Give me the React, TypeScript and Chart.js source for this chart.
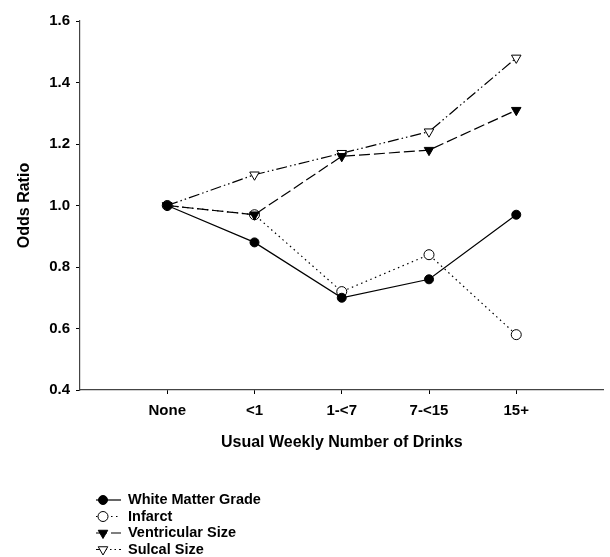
import React, { useEffect, useRef } from "react";
import { Chart, registerables } from "chart.js";
import { drawPoint } from "chart.js/helpers";

Chart.register(...registerables);

const categories = ["None", "<1", "1-<7", "7-<15", "15+"];
const whiteMatter = [1.0, 0.88, 0.70, 0.76, 0.97];
const infarct = [1.0, 0.97, 0.72, 0.84, 0.58];
const ventricular = [1.0, 0.97, 1.16, 1.18, 1.31];
const sulcal = [1.0, 1.10, 1.17, 1.24, 1.48];
const seriesNames = ["White Matter Grade", "Infarct", "Ventricular Size", "Sulcal Size"];
const yTicks = [0.4, 0.6, 0.8, 1.0, 1.2, 1.4, 1.6];

const FONT = "'Liberation Sans', Arial, Helvetica, sans-serif";

const toXY = (vals: number[]) => vals.map((v, i) => ({ x: i + 1, y: v }));

const legendPlugin = {
  id: "customLegend",
  afterDraw(chart: any) {
    const ctx = chart.ctx;
    const startY = 500;
    const rowH = 16.5;
    ctx.save();
    chart.data.datasets.forEach((ds: any, i: number) => {
      const y = startY + i * rowH;
      ctx.save();
      ctx.strokeStyle = "#000";
      ctx.lineWidth = ds.borderWidth;
      ctx.setLineDash(ds.borderDash || []);
      ctx.beginPath();
      ctx.moveTo(96, y);
      ctx.lineTo(121, y);
      ctx.stroke();
      ctx.setLineDash([]);
      ctx.fillStyle = ds.pointBackgroundColor;
      ctx.strokeStyle = ds.pointBorderColor;
      ctx.lineWidth = 1;
      drawPoint(ctx, {
        pointStyle: ds.pointStyle,
        rotation: ds.pointRotation || 0,
        radius: ds.pointRadius,
        borderWidth: 1,
      } as any, 103, y);
      ctx.restore();
      ctx.fillStyle = "#000";
      ctx.font = "bold 14.5px " + FONT;
      ctx.textBaseline = "middle";
      ctx.textAlign = "left";
      ctx.fillText(seriesNames[i], 128, y);
    });
    ctx.restore();
  },
};

export default function App() {
  const ref = useRef<HTMLCanvasElement>(null);
  useEffect(() => {
    if (!ref.current) return;
    const common = {
      borderColor: "#000",
      borderWidth: 1.2,
      pointBorderColor: "#000",
      pointBorderWidth: 1,
      fill: false,
      tension: 0,
    };
    const chart = new Chart(ref.current, {
      type: "line",
      data: {
        datasets: [
          {
            ...common,
            label: seriesNames[0],
            order: 0,
            data: toXY(whiteMatter),
            pointStyle: "circle",
            pointRadius: 4.5,
            pointBackgroundColor: "#000",
          },
          {
            ...common,
            label: seriesNames[1],
            order: 2,
            data: toXY(infarct),
            borderDash: [1.5, 3.5],
            pointStyle: "circle",
            pointRadius: 5,
            pointBackgroundColor: "#fff",
          },
          {
            ...common,
            label: seriesNames[2],
            order: 1,
            data: toXY(ventricular),
            borderDash: [11, 4],
            pointStyle: "triangle",
            pointRotation: 180,
            pointRadius: 5.5,
            pointBackgroundColor: "#000",
          },
          {
            ...common,
            label: seriesNames[3],
            order: 3,
            data: toXY(sulcal),
            borderDash: [11, 3, 1.5, 3, 1.5, 3],
            pointStyle: "triangle",
            pointRotation: 180,
            pointRadius: 5.5,
            pointBackgroundColor: "#fff",
          },
        ] as any,
      },
      options: {
        animation: false,
        responsive: false,
        devicePixelRatio: 1,
        layout: { padding: { top: 21, right: 2, left: 0, bottom: 105 } },
        plugins: {
          legend: { display: false },
          tooltip: { enabled: false },
        },
        scales: {
          x: {
            type: "linear",
            min: 0,
            max: 6,
            afterBuildTicks: (scale: any) => {
              scale.ticks = categories.map((_, i) => ({ value: i + 1 }));
            },
            afterFit: (scale: any) => {
              scale.height = 62;
            },
            ticks: {
              autoSkip: false,
              maxRotation: 0,
              padding: 8,
              color: "#000",
              font: { family: FONT, size: 15, weight: "bold" },
              callback: (v: any) => categories[Math.round(v) - 1] ?? "",
            },
            grid: {
              display: true,
              drawOnChartArea: false,
              drawTicks: true,
              tickLength: 4,
              color: "#000",
            },
            border: { display: true, color: "#444", width: 1.2 },
            title: {
              display: true,
              text: "Usual Weekly Number of Drinks",
              color: "#000",
              font: { family: FONT, size: 16, weight: "bold" },
              padding: { top: 0, bottom: 0 },
            },
          },
          y: {
            type: "linear",
            min: 0.4,
            max: 1.6,
            afterBuildTicks: (scale: any) => {
              scale.ticks = yTicks.map((v) => ({ value: v }));
            },
            afterFit: (scale: any) => {
              scale.width = 80;
            },
            ticks: {
              padding: 6,
              color: "#000",
              font: { family: FONT, size: 15, weight: "bold" },
              callback: (v: any) => Number(v).toFixed(1),
            },
            grid: {
              display: true,
              drawOnChartArea: false,
              drawTicks: true,
              tickLength: 4,
              color: "#000",
            },
            border: { display: true, color: "#444", width: 1.2 },
            title: {
              display: true,
              text: "Odds Ratio",
              color: "#000",
              font: { family: FONT, size: 16, weight: "bold" },
              padding: { top: 15, bottom: 0 },
            },
          },
        },
      } as any,
      plugins: [legendPlugin],
    });
    return () => chart.destroy();
  }, []);
  return (
    <div style={{ position: "fixed", left: 0, top: 0, width: 610, height: 557, background: "#fff" }}>
      <canvas ref={ref} width={610} height={557} style={{ width: 610, height: 557, display: "block" }} />
    </div>
  );
}
